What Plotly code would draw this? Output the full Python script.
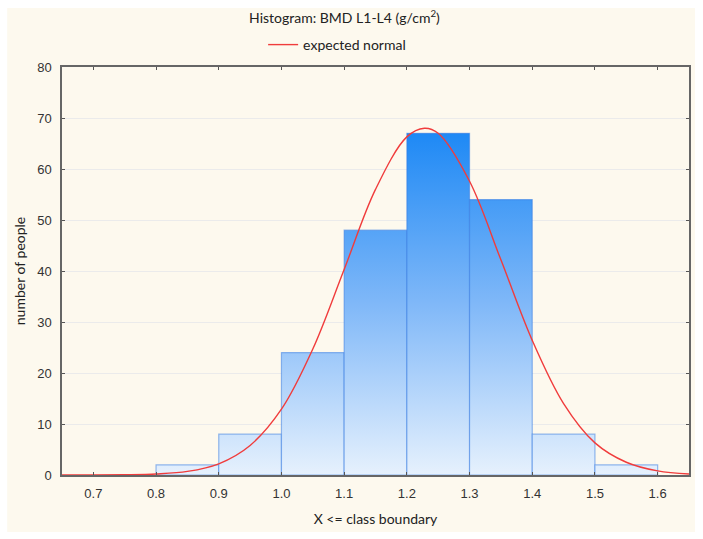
import plotly.graph_objects as go

# ---- data ----
bin_left = [0.8, 0.9, 1.0, 1.1, 1.2, 1.3, 1.4, 1.5]
bin_right = [0.9, 1.0, 1.1, 1.2, 1.3, 1.4, 1.5, 1.6]
counts = [2, 8, 24, 48, 67, 54, 8, 2]

curve_x = [0.65, 0.70, 0.75, 0.80, 0.85, 0.90, 0.95, 1.00, 1.05, 1.10, 1.15,
           1.20, 1.228, 1.25, 1.30, 1.35, 1.40, 1.45, 1.50, 1.55, 1.60, 1.65]
curve_y = [0.0, 0.0, 0.05, 0.2, 0.7, 2.2, 5.8, 12.9, 24.7, 40.3, 56.0,
           66.3, 68.0, 67.0, 57.6, 42.2, 26.4, 14.0, 6.3, 2.5, 0.8, 0.2]

x_ticks = [0.7, 0.8, 0.9, 1.0, 1.1, 1.2, 1.3, 1.4, 1.5, 1.6]
y_ticks = [0, 10, 20, 30, 40, 50, 60, 70, 80]

title_text = "Histogram: BMD L1-L4 (g/cm<sup>2</sup>)"
legend_name = "expected normal"
x_title = "X <= class boundary"
y_title = "number of people"

W, H = 703, 539
ML, MR, MT, MB = 62, 12, 67, 64
pw, ph = W - ML - MR, H - MT - MB

fig = go.Figure()

for l, r, c in zip(bin_left, bin_right, counts):
    fig.add_trace(go.Scatter(
        x=[l, l, r, r, l], y=[0, c, c, 0, 0],
        mode="lines", fill="toself",
        fillgradient=dict(type="vertical", start=0, stop=67,
                          colorscale=[[0, "rgb(230,241,253)"],
                                      [0.5, "rgb(128,184,248)"],
                                      [1, "rgb(30,137,245)"]]),
        line=dict(color="rgba(50,120,225,0.5)", width=1.2),
        showlegend=False, hoverinfo="skip"))

fig.add_trace(go.Scatter(
    x=curve_x, y=curve_y, mode="lines", name=legend_name,
    line=dict(color="rgb(240,60,60)", width=1.4, shape="spline", smoothing=1.0)))

cream_x0 = (7 - ML) / pw
cream_x1 = (697 - ML) / pw
cream_y1 = (H - MB - 8) / ph
cream_y0 = (H - MB - 532) / ph

fig.update_layout(
    width=W, height=H,
    margin=dict(l=ML, r=MR, t=MT, b=MB),
    paper_bgcolor="white", plot_bgcolor="white",
    shapes=[dict(type="rect", xref="paper", yref="paper",
                 x0=cream_x0, x1=cream_x1, y0=cream_y0, y1=cream_y1,
                 fillcolor="rgb(253,249,238)", line=dict(width=0), layer="below")],
    title=dict(text=title_text, x=0.49, xanchor="center", y=1 - 18 / H,
               yanchor="middle", yref="container",
               font=dict(family="Lato, Open Sans, sans-serif", size=14, color="#222")),
    legend=dict(orientation="h", x=(338 - ML) / pw, xanchor="center",
                y=(H - MB - 45) / ph, yanchor="middle", bgcolor="rgba(0,0,0,0)",
                font=dict(family="Lato, Open Sans, sans-serif", size=14, color="#222"),
                itemwidth=30),
    xaxis=dict(range=[0.65, 1.65], tickvals=x_ticks,
               ticktext=[f"{v:.1f}" for v in x_ticks],
               showgrid=False, zeroline=False,
               showline=True, linecolor="#666", linewidth=1.5, mirror="ticks",
               ticks="inside", ticklen=3, tickcolor="#555",
               ticklabelstandoff=6,
               tickfont=dict(family="Liberation Sans, Arial", size=13, color="#333"),
               title=dict(text=x_title, standoff=14,
                          font=dict(family="Lato, Open Sans, sans-serif", size=14, color="#222"))),
    yaxis=dict(range=[0, 80], tickvals=y_ticks,
               showgrid=True, gridcolor="#EBEBEB", gridwidth=1, zeroline=False,
               showline=True, linecolor="#666", linewidth=1.5, mirror="ticks",
               ticks="inside", ticklen=3, tickcolor="#555",
               ticklabelstandoff=6,
               tickfont=dict(family="Liberation Sans, Arial", size=13, color="#333"),
               title=dict(text=y_title, standoff=8,
                          font=dict(family="Lato, Open Sans, sans-serif", size=14, color="#222"))),
)

fig.write_html("out.html")
